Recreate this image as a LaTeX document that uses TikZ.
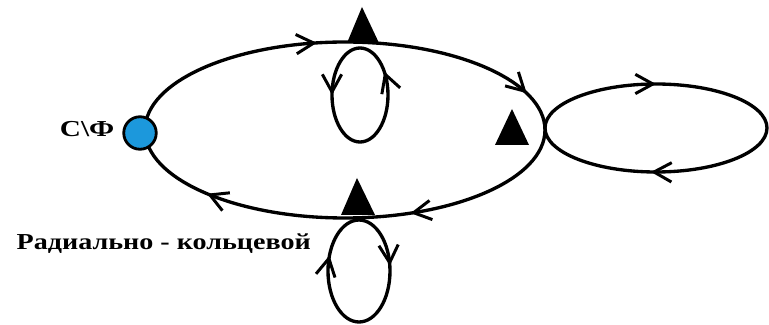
\documentclass[tikz,border=0pt]{standalone}
\usepackage{fontspec}
\setmainfont{Liberation Serif}
\usetikzlibrary{arrows.meta,decorations.markings}
\definecolor{ink}{HTML}{000000}
\definecolor{dotblue}{HTML}{1C98DC}

\begin{document}
\begin{tikzpicture}[x=0.02cm,y=0.02cm,line width=1.9pt,
  flow/.style={postaction={decorate,decoration={markings,mark=at position #1 with {\arrow{Straight Barb[length=10pt,width=11pt,line width=1.7pt]}}}}},
  feeder/.style={fill=ink,draw=none},
  caption/.style={font=\bfseries\fontsize{13}{15}\selectfont,inner sep=0pt}]
\useasboundingbox (0,0) rectangle (769,325);
% main ring, clockwise
\draw[ink,flow=.18,flow=.40,flow=.72,flow=.955] (545,195) arc[start angle=0,end angle=-360,x radius=200,y radius=88];
% right ring
\draw[ink,flow=.26,flow=.75] (767,197) arc[start angle=0,end angle=-360,x radius=111,y radius=44];
% small loops under the points
\draw[ink,flow=.1,flow=.5] (388,230) arc[start angle=0,end angle=360,x radius=28,y radius=47];
\draw[ink,flow=.23,flow=.81] (359,105) arc[start angle=90,end angle=-270,x radius=31,y radius=51];
% points
\fill[feeder](347,282)--(362,318)--(379,282)--cycle;
\fill[feeder](495,180)--(512,216)--(529,180)--cycle;
\fill[feeder](341,110)--(357,147)--(375,110)--cycle;
\node[circle,draw=ink,fill=dotblue,line width=1.6pt,minimum size=18.5pt,inner sep=0pt] (src) at (140,192) {};
\node[caption,anchor=base east] (srcname) at (116,188) {\scalebox{1.28}[1]{С\textbackslash Ф}};
\node[caption,anchor=base west] (kind) at (15,75) {\scalebox{1.23}[1]{Радиально - кольцевой}};
\end{tikzpicture}
\end{document}
